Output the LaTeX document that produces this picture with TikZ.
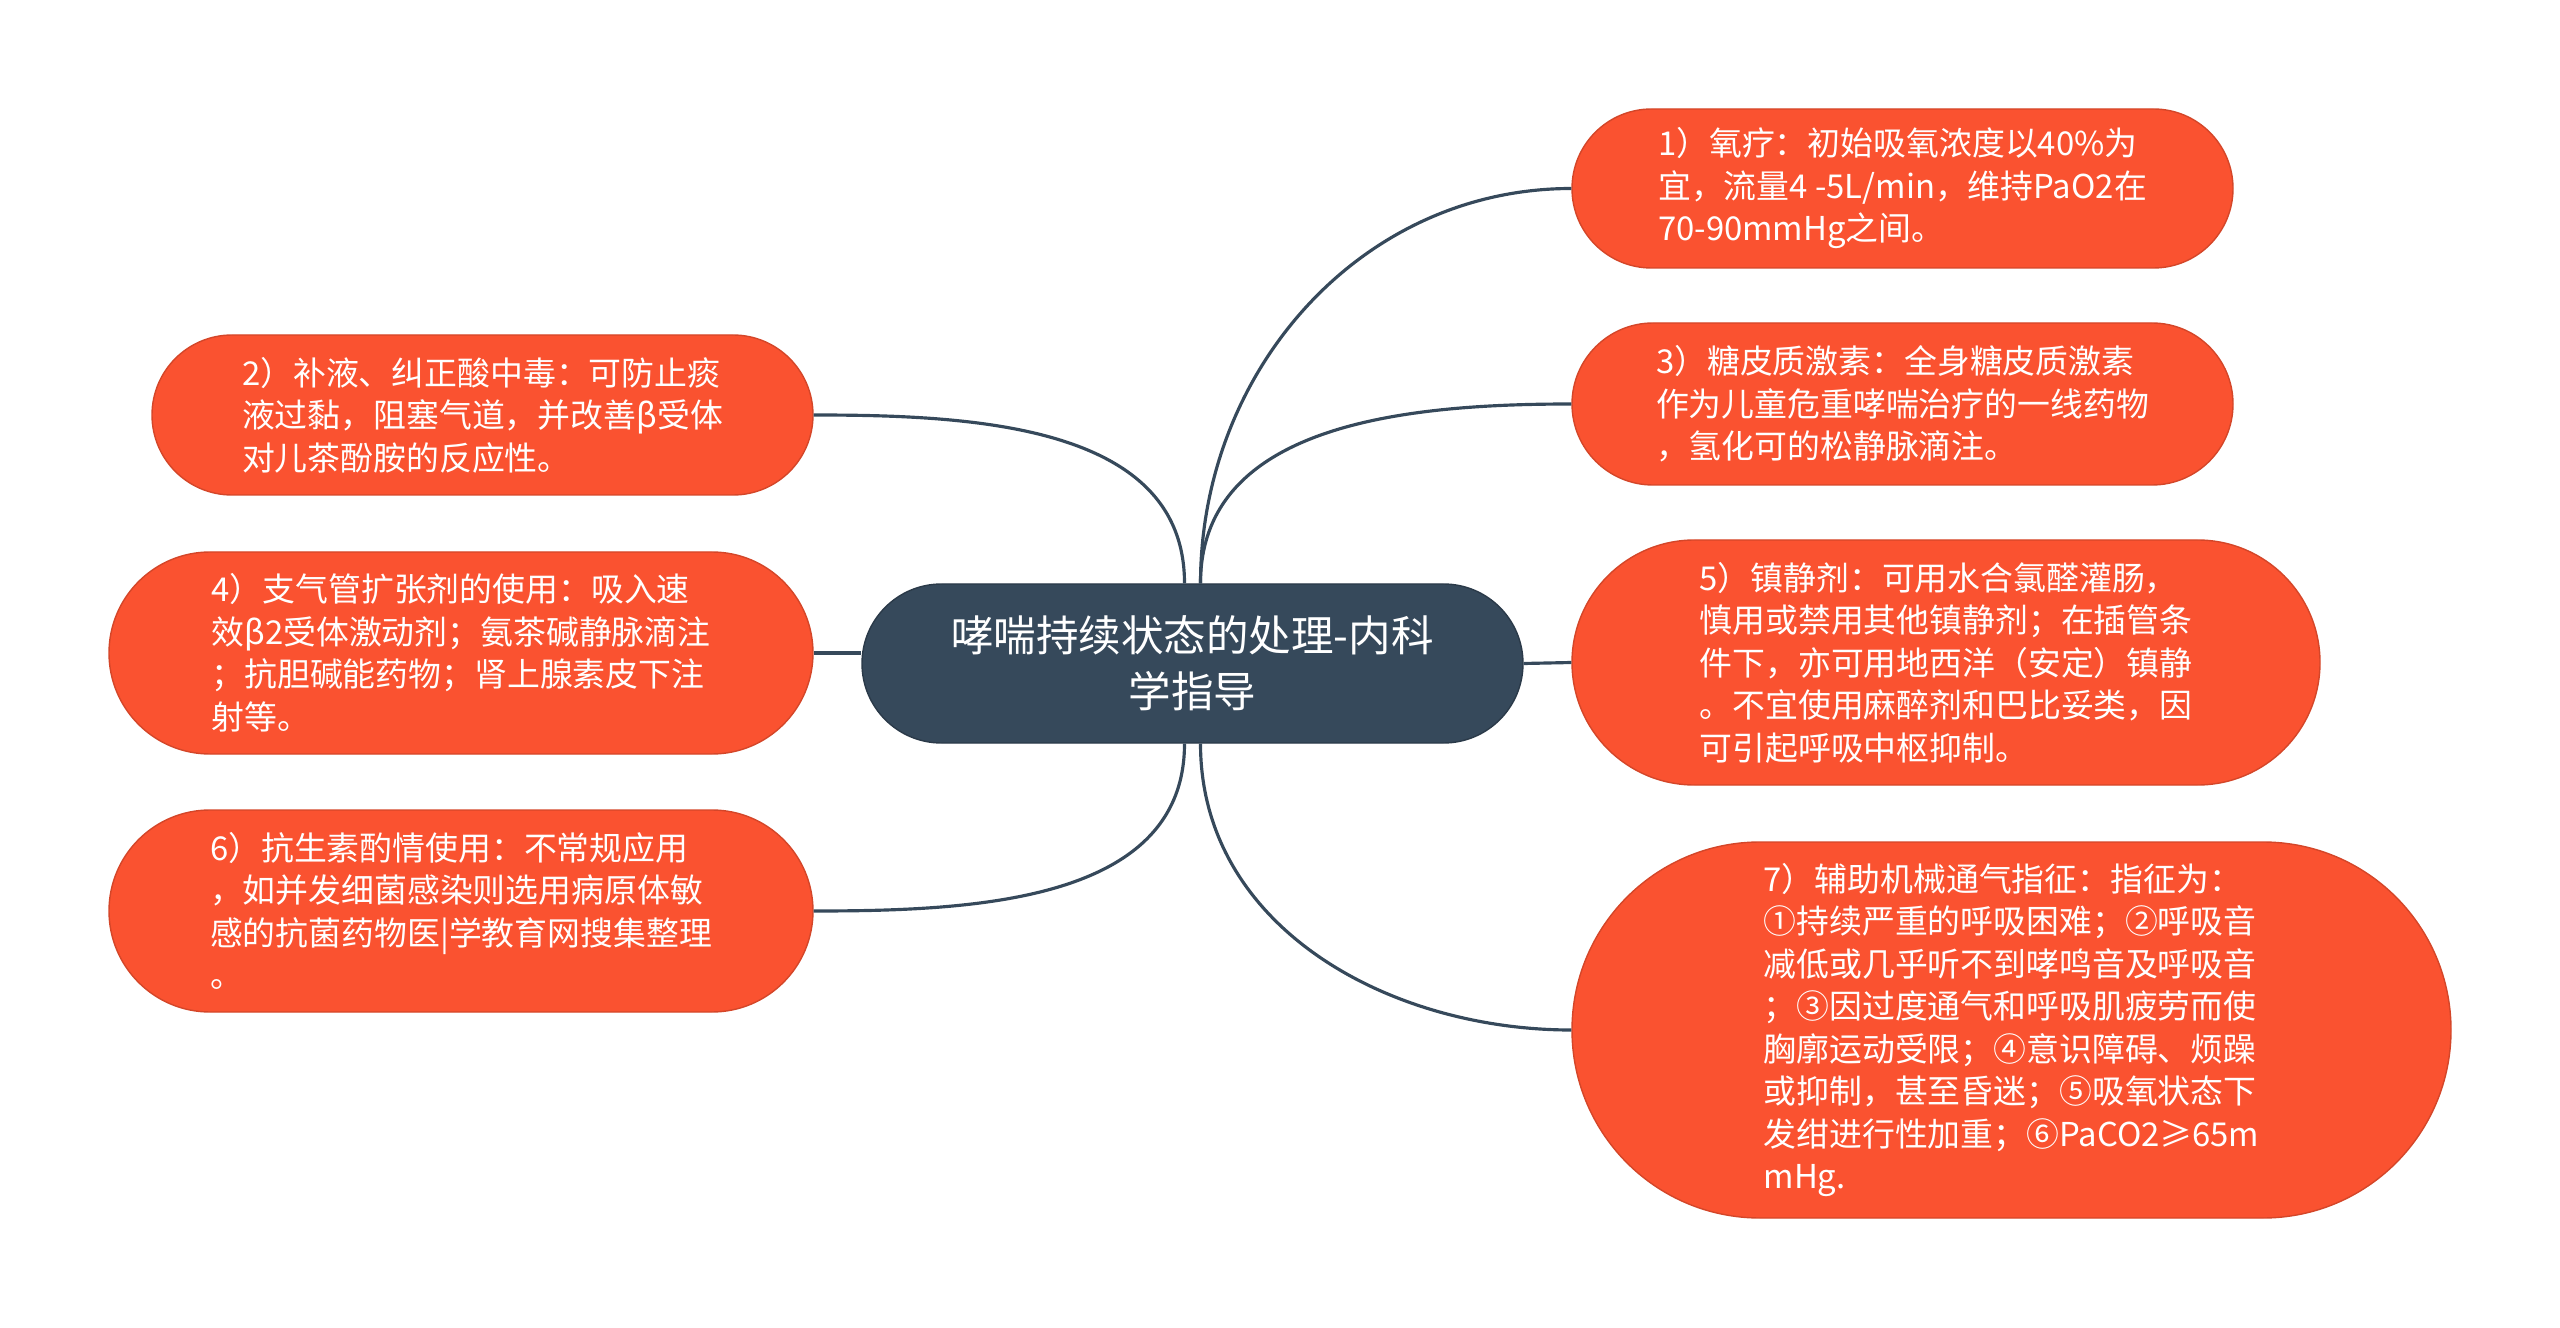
\documentclass[tikz,border=0pt]{standalone}
\usepackage{fontspec}
\setmainfont{Noto Sans CJK SC}
\usepackage{tikz}
\definecolor{leafred}{HTML}{FA5230}
\definecolor{rootblue}{HTML}{36495B}

\begin{document}
\begin{tikzpicture}[
    root/.style={fill=rootblue, draw=rootblue!80!black, text=white, align=center,
        minimum width=6.61cm, minimum height=1.59cm, rounded corners=0.795cm,
        font=\fontsize{12.1pt}{15.8pt}\selectfont},
    leaf/.style n args={3}{fill=leafred, draw=leafred!85!black, text=white, align=left,
        minimum width=#1cm, minimum height=#2cm, rounded corners=#3cm,
        font=\fontsize{9.35pt}{12.1pt}\selectfont},
    link/.style={draw=rootblue, line width=0.9pt}]
            \useasboundingbox (0,0) rectangle (25.6,13.27);
            \node[root] (root) at (11.925,6.635) {哮喘持续状态的处理-内科\\学指导};
            % right side
            \node[leaf={6.61}{1.59}{0.795}] (n1) at (19.025,11.385) {1）氧疗：初始吸氧浓度以40\%为\\宜，流量4 -5L/min，维持PaO2在\\70-90mmHg之间。};
            \node[leaf={6.61}{1.62}{0.81}] (n3) at (19.025,9.23) {3）糖皮质激素：全身糖皮质激素\\作为儿童危重哮喘治疗的一线药物\\，氢化可的松静脉滴注。};
            \node[leaf={7.48}{2.45}{1.225}] (n5) at (19.46,6.645) {5）镇静剂：可用水合氯醛灌肠，\\慎用或禁用其他镇静剂；在插管条\\件下，亦可用地西洋（安定）镇静\\。不宜使用麻醉剂和巴比妥类，因\\可引起呼吸中枢抑制。};
            \node[leaf={8.79}{3.76}{1.88}] (n7) at (20.115,2.97) {7）辅助机械通气指征：指征为：\\①持续严重的呼吸困难；②呼吸音\\减低或几乎听不到哮鸣音及呼吸音\\；③因过度通气和呼吸肌疲劳而使\\胸廓运动受限；④意识障碍、烦躁\\或抑制，甚至昏迷；⑤吸氧状态下\\发绀进行性加重；⑥PaCO2≥65m\\mHg.};
            % left side
            \node[leaf={6.61}{1.6}{0.8}] (n2) at (4.825,9.12) {2）补液、纠正酸中毒：可防止痰\\液过黏，阻塞气道，并改善β受体\\对儿茶酚胺的反应性。};
            \node[leaf={7.04}{2.02}{1.01}] (n4) at (4.61,6.74) {4）支气管扩张剂的使用：吸入速\\效β2受体激动剂；氨茶碱静脉滴注\\；抗胆碱能药物；肾上腺素皮下注\\射等。};
            \node[leaf={7.04}{2.02}{1.01}] (n6) at (4.61,4.16) {6）抗生素酌情使用：不常规应用\\，如并发细菌感染则选用病原体敏\\感的抗菌药物医|学教育网搜集整理\\。};
            \foreach \t/\e/\a/\s/\o/\i in {n1/west/north/0.08/90/180, n3/west/north/0.08/90/180,
                n7/west/south/0.08/-90/180, n2/east/north/-0.08/90/0, n6/east/south/-0.08/-90/0}
                \draw[link] ([xshift=\s cm]root.\a) to[out=\o,in=\i] (\t.\e);
            \draw[link] (root.east) -- (n5.west);
            \draw[link] (n4.east) -- (n4.east -| root.west);
        \end{tikzpicture}
\end{document}
